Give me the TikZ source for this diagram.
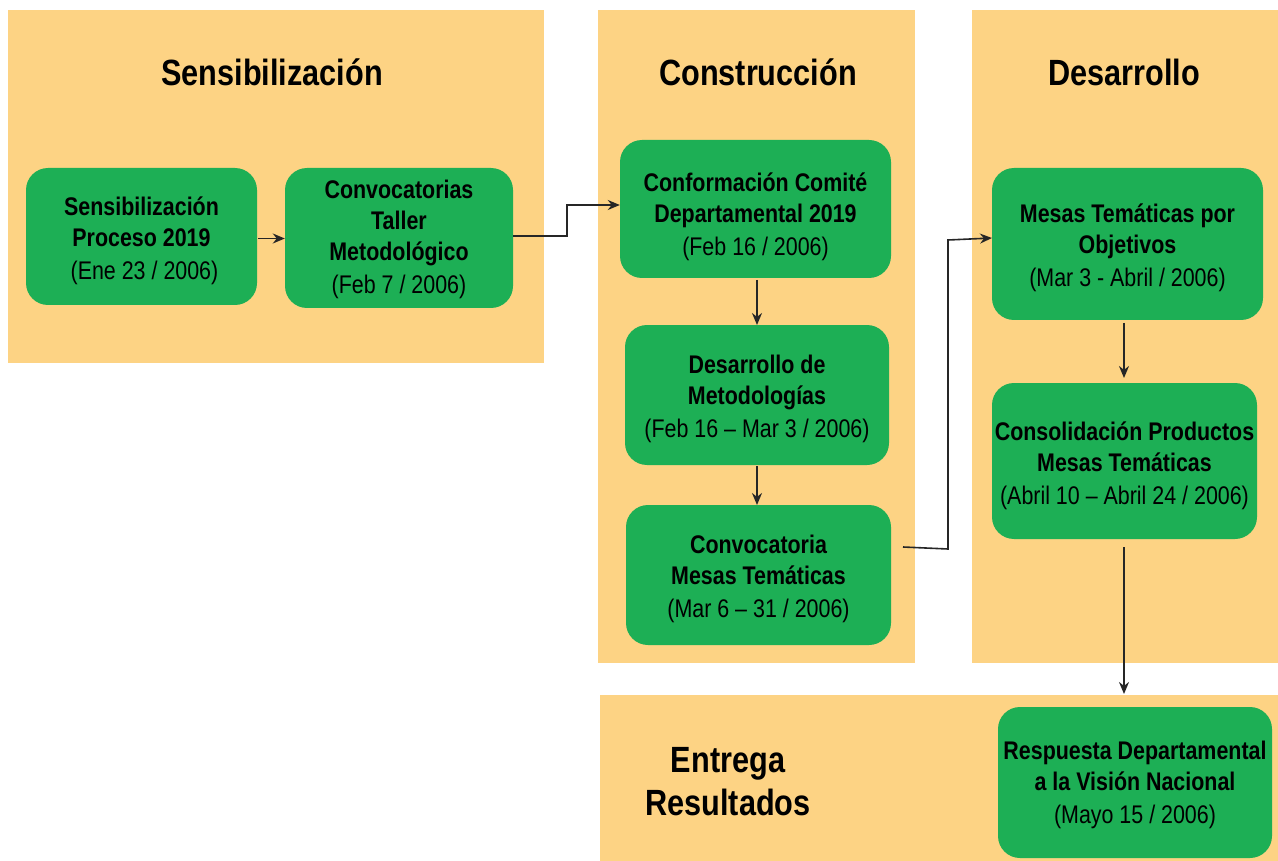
\documentclass[tikz,border=0pt]{standalone}
\usepackage{fontspec}
\setmainfont[FakeStretch=0.84]{Liberation Sans}
\usetikzlibrary{arrows.meta}
\definecolor{panelc}{HTML}{FDD384}
\definecolor{boxc}{HTML}{1DAF55}
\tikzset{
  panel/.style={fill=panelc, draw=none, inner sep=0pt},
  ptitle/.style={font=\fontsize{36.5}{43}\selectfont\bfseries, align=center},
  gbox/.style={fill=boxc, draw=none, rounded corners=22pt, align=center, inner sep=0pt,
     font=\fontsize{25.5}{31}\selectfont},
  conn/.style={draw=black!85, line width=1.6pt, -{Stealth[length=12pt,width=10pt]}},
}
\newcommand{\dt}[1]{\mdseries #1}
\newcommand{\fl}[1][27pt]{\rule{0pt}{#1}}
\begin{document}
\begin{tikzpicture}[x=1pt,y=-1pt]
\useasboundingbox (0,0) rectangle (1278,861);
% panels
\path[panel] (8,10) rectangle (544,363) coordinate (p1);
\path[panel] (598,10) rectangle (915,663) coordinate (p2);
\path[panel] (972,10) rectangle (1278,663) coordinate (p3);
\path[panel] (600,695) rectangle (1278,861) coordinate (p4);
% titles
\node[ptitle] (t1) at (272,72) {Sensibilización};
\node[ptitle] (t2) at (758,72) {Construcción};
\node[ptitle] (t3) at (1124,72) {Desarrollo};
\node[ptitle] (t4) at (728,782) {Entrega\\Resultados};
% boxes
\node[gbox, minimum width=231pt, minimum height=137pt] (b1) at (141.5,236.5)
  {\fl\bfseries Sensibilización\\\bfseries Proceso 2019\\[2pt]\dt{\ (Ene 23 / 2006)}};
\node[gbox, minimum width=228pt, minimum height=140pt] (b2) at (399,238)
  {\fl[21pt]\bfseries Convocatorias\\\bfseries Taller\\\bfseries Metodológico\\[2pt]\dt{(Feb 7 / 2006)}};
\node[gbox, minimum width=271pt, minimum height=138pt] (b3) at (755.5,209)
  {\fl[34pt]\bfseries Conformación Comité\\\bfseries Departamental 2019\\[2pt]\dt{(Feb 16 / 2006)}};
\node[gbox, minimum width=264pt, minimum height=140pt] (b4) at (757,395)
  {\fl\bfseries Desarrollo de\\\bfseries Metodologías\\[2pt]\dt{(Feb 16 – Mar 3 / 2006)}};
\node[gbox, minimum width=265pt, minimum height=140pt] (b5) at (758.5,575)
  {\fl\bfseries Convocatoria\\\bfseries Mesas Temáticas\\[2pt]\dt{(Mar 6 – 31 / 2006)}};
\node[gbox, minimum width=271pt, minimum height=152pt] (b6) at (1127.5,244)
  {\fl\bfseries Mesas Temáticas por\\\bfseries Objetivos\\[2pt]\dt{(Mar 3 - Abril / 2006)}};
\node[gbox, minimum width=265pt, minimum height=156pt] (b7) at (1124.5,461)
  {\fl[29pt]\bfseries Consolidación Productos\\\bfseries Mesas Temáticas\\[2pt]\dt{(Abril 10 – Abril 24 / 2006)}};
\node[gbox, minimum width=274pt, minimum height=151pt] (b8) at (1135,782.5)
  {\fl[23pt]\bfseries Respuesta Departamental\\\bfseries a la Visión Nacional\\[2pt]\dt{(Mayo 15 / 2006)}};
% connectors
\draw[conn] (b1.east) ++(1,2) coordinate (c1s) (c1s) -- (c1s -| b2.west);
\draw[conn] (b2.east) ++(0,-2) coordinate (c2s) (c2s) -- (567,236) |- (b3.west |- 0,205);
\draw[conn] (757,280) coordinate (c3s) -- (757,325);
\draw[conn] (757,466) coordinate (c4s) -- (757,505);
\coordinate (c5s) at (903,547);
\draw[conn] (c5s) -- (948,549) -- (948,240) -- (992,238);
\draw[conn] (1124,323) coordinate (c6s) -- (1124,378);
\draw[conn] (1124,547) coordinate (c7s) -- (1124,694);
\end{tikzpicture}
\end{document}
